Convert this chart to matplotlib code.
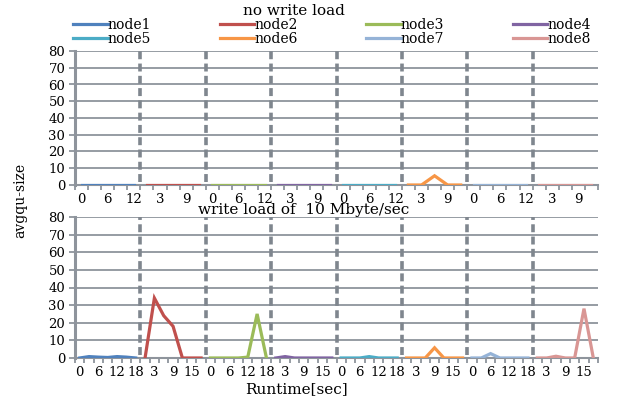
import numpy as np
import matplotlib.pyplot as plt
from matplotlib.ticker import FixedLocator

plt.rcParams['font.family'] = ['DejaVu Serif', 'Liberation Serif']

nodes = ['node1', 'node2', 'node3', 'node4', 'node5', 'node6', 'node7', 'node8']
colors = ['#4F81BD', '#C0504D', '#9BBB59', '#8064A2',
          '#4BACC6', '#F79646', '#95B3D7', '#D99694']

# no write load: runtime 0..12 sec per node
top_times = [0, 3, 6, 9, 12]
top_vals = [
    [0, 0, 0, 0, 0],
    [0, 0, 0, 0, 0],
    [0, 0, 0, 0, 0],
    [0, 0, 0, 0, 0],
    [0, 0, 0, 0, 0],
    [0, 0, 5.5, 0, 0],
    [0, 0, 0, 0, 0],
    [0, 0, 0, 0, 0],
]

# write load of 10 Mbyte/sec: runtime 0..18 sec per node
bot_times = [0, 3, 6, 9, 12, 15, 18]
bot_vals = [
    [0, 0.8, 0.5, 0.3, 0.8, 0.5, 0],
    [0, 34, 24, 18, 0, 0, 0],
    [0, 0, 0, 0, 0.5, 25, 0],
    [0, 0.8, 0, 0, 0, 0, 0],
    [0, 0, 0, 0.8, 0, 0, 0],
    [0, 0, 0, 5.8, 0, 0, 0],
    [0, 0, 2.5, 0, 0, 0, 0],
    [0, 0, 1, 0, 0, 28, 0],
]

grid_c = '#8E949C'

fig = plt.figure(figsize=(6.38, 3.99), dpi=100)
ax_top = fig.add_axes([75/638, 1-185/399, 523/638, 134/399])
ax_bot = fig.add_axes([75/638, 1-358/399, 523/638, 141/399])


def draw_panel(ax, times, vals):
    n = len(times)
    total = n * len(nodes)
    lines = []
    for k, (name, c) in enumerate(zip(nodes, colors)):
        x = np.arange(n) + k * n
        ln, = ax.plot(x, vals[k], color=c, lw=2.3, label=name,
                      solid_joinstyle='miter', zorder=3)
        lines.append(ln)
        if k > 0:
            ax.vlines(k * n - 0.5, 1.5, 80, colors='#7F868E', lw=2.6,
                      linestyles=(0, (2.2, 1.2)), zorder=2)
    ax.set_xlim(-0.5, total - 0.5)
    ax.set_ylim(0, 80)
    ax.set_yticks(range(0, 81, 10))
    for y in range(10, 81, 10):
        ax.axhline(y, color=grid_c, lw=1.3, zorder=1)
    labels = [str(t) for t in times] * len(nodes)
    idx = list(range(0, total, 2))
    ax.set_xticks(idx)
    ax.set_xticklabels([labels[i] for i in idx])
    ax.xaxis.set_minor_locator(FixedLocator(np.arange(total + 1) - 0.5))
    ax.tick_params(axis='x', which='major', length=0, pad=6, labelsize=9.5)
    ax.tick_params(axis='x', which='minor', length=3.5, width=1.3,
                   color=grid_c)
    ax.tick_params(axis='y', length=4, width=1.3, color=grid_c,
                   labelsize=9.5, pad=3)
    for s in ['top', 'right']:
        ax.spines[s].set_visible(False)
    ax.spines['left'].set_color(grid_c)
    ax.spines['left'].set_linewidth(2.2)
    ax.spines['bottom'].set_color(grid_c)
    ax.spines['bottom'].set_linewidth(1.5)
    return lines


lines = draw_panel(ax_top, top_times, top_vals)
draw_panel(ax_bot, bot_times, bot_vals)

fig.text(294/638, 1-11/399, 'no write load', ha='center', va='center',
         fontsize=11)
ax_bot.set_title('write load of  10 Mbyte/sec', fontsize=11, pad=0,
                 x=0.438)

order = [0, 4, 1, 5, 2, 6, 3, 7]
fig.legend([lines[i] for i in order], [nodes[i] for i in order],
           ncol=4, loc='upper left', mode='expand',
           bbox_to_anchor=(73/638, 1-46/399, 518/638, 28/399),
           frameon=False, fontsize=10, handlelength=2.5,
           handletextpad=0.0, labelspacing=0.0, borderpad=0,
           borderaxespad=0)

fig.text(20/638, 1-200/399, 'avgqu-size', rotation=90, ha='center',
         va='center', fontsize=10)
fig.text(296/638, 1-389/399, 'Runtime[sec]', ha='center', va='center',
         fontsize=11)

fig.savefig('out.png', dpi=100)
